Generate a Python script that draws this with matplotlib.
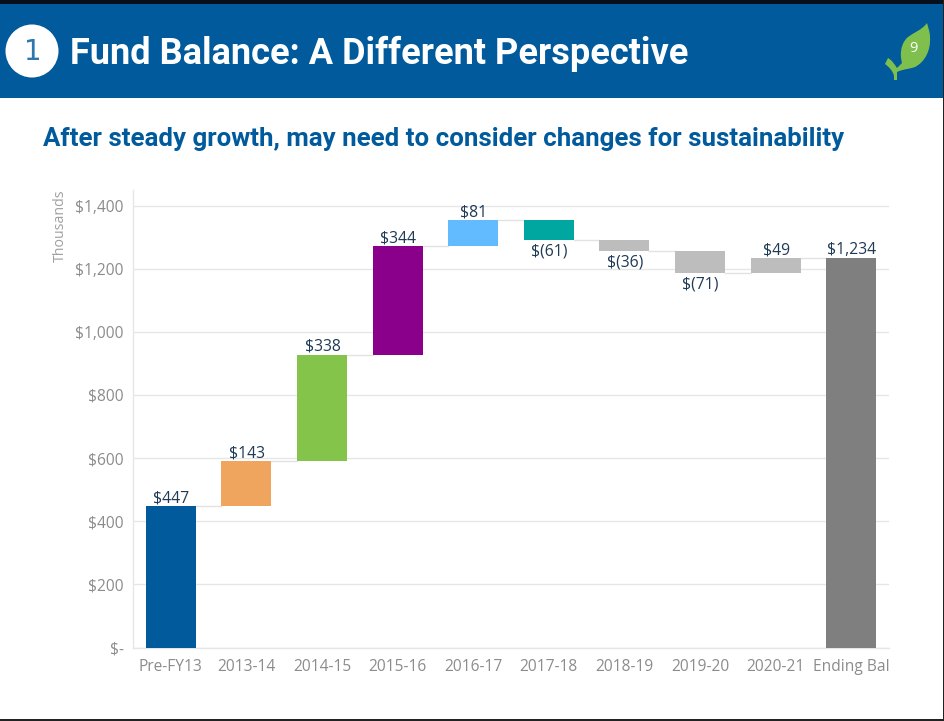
import matplotlib
matplotlib.use("Agg")
import matplotlib.pyplot as plt
from matplotlib.patches import Rectangle, Circle, PathPatch
from matplotlib.path import Path

W, H = 944, 721

categories = ["Pre-FY13", "2013-14", "2014-15", "2015-16", "2016-17",
              "2017-18", "2018-19", "2019-20", "2020-21", "Ending Bal"]
changes = [447, 143, 338, 344, 81, -61, -36, -71, 49]
ending_balance = 1234
value_labels = ["$447", "$143", "$338", "$344", "$81", "$(61)", "$(36)", "$(71)", "$49", "$1,234"]
bar_colors = ["#005A9C", "#F0A55F", "#84C44B", "#8B008B", "#62BBFF",
              "#00A6A0", "#BDBDBD", "#BDBDBD", "#BDBDBD", "#7F7F7F"]
y_ticks = [0, 200, 400, 600, 800, 1000, 1200, 1400]
y_tick_labels = ["$-", "$200", "$400", "$600", "$800", "$1,000", "$1,200", "$1,400"]

BLUE = "#005A9C"
TICK_GREY = "#8C8C8C"
LINE_GREY = "#E6E6E6"
LABEL_NAVY = "#1F3A56"
HEAD_FONT = ["Roboto", "DejaVu Sans"]
BODY_FONT = ["Open Sans", "DejaVu Sans"]

fig = plt.figure(figsize=(W / 100, H / 100), dpi=100, facecolor="white")

# Slide furniture lives on an overlay measured in pixels from the top left
bg = fig.add_axes([0, 0, 1, 1], zorder=0)
bg.set_xlim(0, W)
bg.set_ylim(H, 0)
bg.axis("off")
bg.add_patch(Rectangle((0, 3), W, 95, fc=BLUE, ec="none"))
bg.add_patch(Rectangle((0, 0), W, 4, fc="#05101c", ec="none"))
bg.add_patch(Rectangle((942.5, 0), 1.5, H, fc="#222222", ec="none"))
bg.add_patch(Rectangle((0, 718.5), W, 2.5, fc="#222222", ec="none"))
bg.add_patch(Circle((32, 51), 26.5, fc="white", ec="none"))
bg.text(32.5, 52, "1", color="#2F78AE", fontsize=20, family="DejaVu Sans",
        ha="center", va="center")
bg.text(70.5, 53.5, "Fund Balance: A Different Perspective", color="white",
        fontsize=26, family=HEAD_FONT, fontweight="bold", ha="left", va="center")
bg.text(43, 139, "After steady growth, may need to consider changes for sustainability",
        color=BLUE, fontsize=18.65, family=HEAD_FONT, fontweight="bold", ha="left", va="center")

# Leaf emblem with its page number
M, L, C, Z = Path.MOVETO, Path.LINETO, Path.CURVE4, Path.CLOSEPOLY
leaf_vertices = [
    (927, 23),
    (922, 30), (913, 33), (908, 37),
    (902, 42), (899, 52), (902, 63),
    (897, 68),
    (895, 65), (892, 60), (888, 58),
    (885, 64),
    (889, 67), (893, 71), (894, 76),
    (894, 80), (897, 80), (897, 72),
    (903, 69), (910, 69), (915, 67),
    (925, 62), (931, 50), (930, 37),
    (930, 32), (928, 27), (927, 23),
    (927, 23),
]
leaf_codes = [M, C, C, C, C, C, C, L, C, C, C, L, C, C, C, L, L, L,
              C, C, C, C, C, C, C, C, C, Z]
bg.add_patch(PathPatch(Path(leaf_vertices, leaf_codes), fc="#7FBF4D", ec="none"))
bg.text(913.5, 48.5, "9", color="white", fontsize=10.5, family=BODY_FONT, ha="center", va="center")

# Waterfall chart
left, right = 133, 889
top, bottom = 190, 647.5
ax = fig.add_axes([left / W, 1 - bottom / H, (right - left) / W, (bottom - top) / H],
                  zorder=1, facecolor="none")
ax.set_xlim(-0.5, 9.5)
ax.set_ylim(0, 1400 * (bottom - top) / (bottom - 205.5))

ax.yaxis.grid(True, color=LINE_GREY, lw=1)
ax.set_axisbelow(True)
for side in ("top", "right"):
    ax.spines[side].set_visible(False)
for side in ("left", "bottom"):
    ax.spines[side].set_color(LINE_GREY)
    ax.spines[side].set_linewidth(1)

# Running totals give each floating bar its base and top
running = [0]
for change in changes:
    running.append(running[-1] + change)
bases = [min(running[i], running[i + 1]) for i in range(len(changes))] + [0]
heights = [abs(c) for c in changes] + [ending_balance]
levels = running[1:] + [ending_balance]

xs = list(range(len(categories)))
bar_width = 0.66
ax.bar(xs, heights, bottom=bases, width=bar_width, color=bar_colors, zorder=3)

for i in range(len(xs) - 1):
    ax.plot([i + bar_width / 2, i + 1 - bar_width / 2], [levels[i], levels[i]],
            color="#E2E2E2", lw=1, zorder=2)

for i, label in enumerate(value_labels):
    falling = i < len(changes) and changes[i] < 0
    if falling:
        ax.annotate(label, (i, bases[i]), xytext=(0.5, -2.5), textcoords="offset points",
                    ha="center", va="top", fontsize=11.3, color=LABEL_NAVY, family=BODY_FONT, zorder=4)
    else:
        ax.annotate(label, (i, bases[i] + heights[i]), xytext=(0.5, -0.3), textcoords="offset points",
                    ha="center", va="bottom", fontsize=11.3, color=LABEL_NAVY, family=BODY_FONT, zorder=4)

ax.set_xticks(xs, categories, fontsize=11.2, color=TICK_GREY, family=BODY_FONT)
ax.set_yticks(y_ticks, y_tick_labels, fontsize=11.2, color=TICK_GREY, family=BODY_FONT)
ax.tick_params(axis="both", length=0)
ax.tick_params(axis="x", pad=8.5)
ax.tick_params(axis="y", pad=6.5)

bg.text(60, 225.5, "Thousands", rotation=90, color="#A0A0A0", fontsize=10.2,
        family=BODY_FONT, ha="center", va="center")

fig.savefig("out.png", dpi=100)
